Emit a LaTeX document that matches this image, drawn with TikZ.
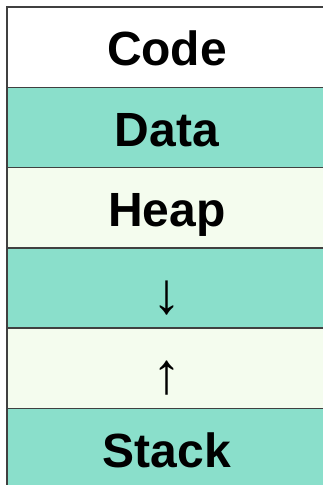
\documentclass[tikz,border=0pt]{standalone}
\usepackage{fontspec}
\setmainfont{Liberation Sans}
\definecolor{teal}{RGB}{138,223,203}
\definecolor{cream}{RGB}{244,252,238}
\definecolor{edge}{RGB}{64,64,64}
\begin{document}
\begin{tikzpicture}[x=1pt,y=-1pt,
  rowbox/.style={draw=edge, line width=1.6pt, minimum width=330pt, minimum height=80.3pt, anchor=north west, inner sep=0pt, outer sep=0pt},
  lbl/.style={anchor=base, inner sep=0pt, font=\fontsize{48}{52}\selectfont\bfseries},
  arr/.style={anchor=base, inner sep=0pt, font=\fontsize{58}{62}\selectfont}]
\useasboundingbox (0,0) rectangle (322,485);
\node[rowbox, fill=white] (code)  at (7,7) {};
\node[rowbox, fill=teal]  (data)  at (7,87.3) {};
\node[rowbox, fill=cream] (heap)  at (7,167.6) {};
\node[rowbox, fill=teal]  (down)  at (7,247.9) {};
\node[rowbox, fill=cream] (up)    at (7,328.2) {};
\node[rowbox, fill=teal]  (stack) at (7,408.5) {};
\node[lbl] (tcode)  at (167,65) {Code};
\node[lbl] (tdata)  at (167,146) {Data};
\node[lbl] (theap)  at (167,226) {Heap};
\node[arr] (tdown)  at (167,313) {↓};
\node[arr] (tup)    at (167,393) {↑};
\node[lbl] (tstack) at (167,467) {Stack};
\end{tikzpicture}
\end{document}
